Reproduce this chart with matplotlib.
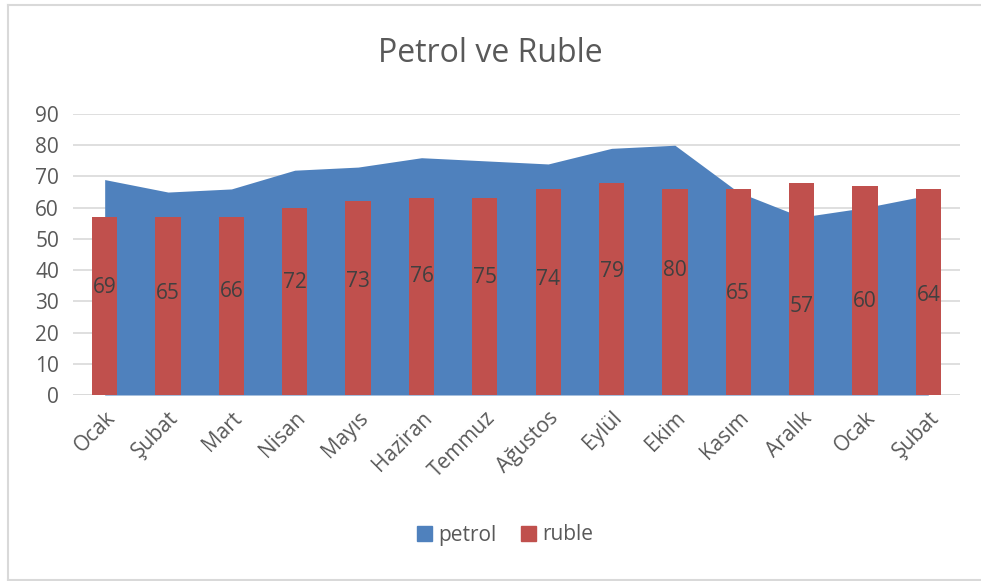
import matplotlib
matplotlib.use("Agg")
import matplotlib.pyplot as plt
from matplotlib.lines import Line2D
from matplotlib.patches import Patch
import numpy as np

plt.rcParams['font.family'] = ['Open Sans', 'DejaVu Sans']

months = ["Ocak", "Şubat", "Mart", "Nisan", "Mayıs", "Haziran", "Temmuz",
          "Ağustos", "Eylül", "Ekim", "Kasım", "Aralık", "Ocak", "Şubat"]
petrol = [69, 65, 66, 72, 73, 76, 75, 74, 79, 80, 65, 57, 60, 64]
ruble = [57, 57, 57, 60, 62, 63, 63, 66, 68, 66, 66, 68, 67, 66]

blue = "#4F81BD"
red = "#C0504D"
txt = "#595959"
grid = "#D9D9D9"

W, H = 981, 581
fig = plt.figure(figsize=(W / 100, H / 100), dpi=100)
ax = fig.add_axes([73 / W, 1 - 395 / H, (960 - 73) / W, (395 - 114) / H])

x = np.arange(len(months))
ax.fill_between(x, 0, petrol, color=blue, lw=0, zorder=2)
ax.bar(x, ruble, width=0.4, color=red, zorder=3)
for xi, v in zip(x, petrol):
    ax.text(xi, v / 2, str(v), ha='center', va='center', fontsize=15,
            color="#404040", zorder=5)

ax.set_xlim(-0.5, len(months) - 0.5)
ax.set_ylim(0, 90)
ax.set_yticks(range(0, 91, 10))
ax.yaxis.grid(True, color=grid, lw=1.2, zorder=0)
ax.set_axisbelow(True)
for s in ax.spines.values():
    s.set_visible(False)
ax.axhline(0, color=grid, lw=1.2, zorder=1)
ax.tick_params(axis='both', length=0, labelsize=15, labelcolor=txt)
ax.tick_params(axis='y', pad=10)
ax.set_xticks(x)
ax.set_xticklabels(months, rotation=45, ha='right', va='top',
                   rotation_mode='anchor')
ax.tick_params(axis='x', pad=9)

fig.text(0.5, 1 - 53 / H, "Petrol ve Ruble", ha='center', va='center',
         fontsize=23, color=txt)

handles = [Patch(color=blue, label="petrol"), Patch(color=red, label="ruble")]
fig.legend(handles=handles, loc='center', bbox_to_anchor=(505 / W, 1 - 535 / H),
           ncol=2, frameon=False, fontsize=15, labelcolor=txt,
           handlelength=0.7, handleheight=0.7, handletextpad=0.3,
           columnspacing=1.2)

# chart border
bc = "#D9D9D9"
fig.add_artist(Line2D([7.5 / W, 7.5 / W], [1 - 5 / H, 1 - 580 / H],
                      transform=fig.transFigure, color=bc, lw=1.5))
fig.add_artist(Line2D([7.5 / W, 1], [1 - 5 / H, 1 - 5 / H],
                      transform=fig.transFigure, color=bc, lw=1.5))
fig.add_artist(Line2D([7.5 / W, 1], [1 - 580 / H, 1 - 580 / H],
                      transform=fig.transFigure, color=bc, lw=1.5))

fig.savefig("out.png", dpi=100)
